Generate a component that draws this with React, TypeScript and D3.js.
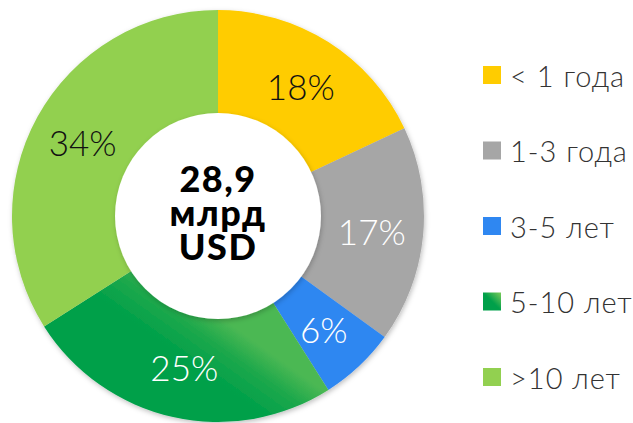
import React from 'react';
import * as d3 from 'd3';

const categories = ['< 1 года', '1-3 года', '3-5 лет', '5-10 лет', '>10 лет'];
const shares = [18, 17, 6, 25, 34];
const colors = ['#FFCC00', '#A6A6A6', '#2F87F1', '#00A04A', '#92D050'];
const labelColors = ['#111', '#fff', '#fff', '#fff', '#111'];
const centerLines = ['28,9', 'млрд', 'USD'];

const W = 633;
const H = 423;
const cx = 218;
const cy = 216;
const outerR = 206;
const innerR = 103;

const App = () => {
  const pie = d3.pie<number>().sort(null).value((d) => d);
  const arcs = pie(shares);
  const arc = d3.arc<d3.PieArcDatum<number>>().innerRadius(innerR - 4).outerRadius(outerR);
  const labelArc = d3.arc<d3.PieArcDatum<number>>().innerRadius(innerR).outerRadius(outerR);

  const legendY = d3.scalePoint<string>().domain(categories).range([75, 377]);

  const fill = (i: number) => (i === 3 ? 'url(#greenGrad)' : colors[i]);

  return (
    <svg width={W} height={H} style={{ position: 'fixed', left: 0, top: 0, background: '#fff' }}>
      <defs>
        <filter id="ringShadow" x="-10%" y="-10%" width="120%" height="120%">
          <feDropShadow dx="1" dy="2" stdDeviation="2.5" floodColor="#000" floodOpacity="0.25" />
        </filter>
        <filter id="holeShadow" x="-10%" y="-10%" width="120%" height="120%">
          <feDropShadow dx="1" dy="2" stdDeviation="2.5" floodColor="#000" floodOpacity="0.22" />
        </filter>
        <linearGradient id="greenGrad" gradientUnits="userSpaceOnUse" x1="282" y1="300" x2="250" y2="345">
          <stop offset="0%" stopColor="#4BB853" />
          <stop offset="45%" stopColor="#1DA84C" />
          <stop offset="100%" stopColor="#00A04A" />
        </linearGradient>
        <linearGradient id="swatchGrad" x1="1" y1="0" x2="0" y2="1">
          <stop offset="0%" stopColor="#7CCB5A" />
          <stop offset="50%" stopColor="#00A04A" />
          <stop offset="100%" stopColor="#00A04A" />
        </linearGradient>
      </defs>

      <g transform={`translate(${cx},${cy})`}>
        <g filter="url(#ringShadow)">
          {arcs.map((a, i) => (
            <path key={i} d={arc(a) || ''} fill={fill(i)} />
          ))}
        </g>
        <circle r={innerR} fill="#fff" filter="url(#holeShadow)" />
        {arcs.map((a, i) => {
          const [x, y] = labelArc.centroid(a);
          return (
            <text
              key={i}
              x={x}
              y={y}
              textAnchor="middle"
              dominantBaseline="central"
              fontFamily="Lato, sans-serif"
              fontWeight={300}
              fontSize={35}
              fill={labelColors[i]}
            >
              {shares[i]}%
            </text>
          );
        })}
        <text
          textAnchor="middle"
          fontFamily="Lato, sans-serif"
          fontWeight={900}
          fontSize={36}
          letterSpacing={1.5}
          fill="#000"
        >
          {centerLines.map((t, i) => (
            <tspan key={t} x={0} y={-24 + i * 34}>
              {t}
            </tspan>
          ))}
        </text>
      </g>

      <g>
        {categories.map((c, i) => {
          const y = legendY(c) || 0;
          return (
            <g key={c} transform={`translate(483,${y})`}>
              <rect x={0} y={-9} width={18} height={18} fill={i === 3 ? 'url(#swatchGrad)' : colors[i]} />
              <text
                x={27}
                y={0}
                dominantBaseline="central"
                fontFamily="Lato, sans-serif"
                fontWeight={300}
                fontSize={29}
                letterSpacing={1}
                fill="#333"
              >
                {c}
              </text>
            </g>
          );
        })}
      </g>
    </svg>
  );
};

export default App;
